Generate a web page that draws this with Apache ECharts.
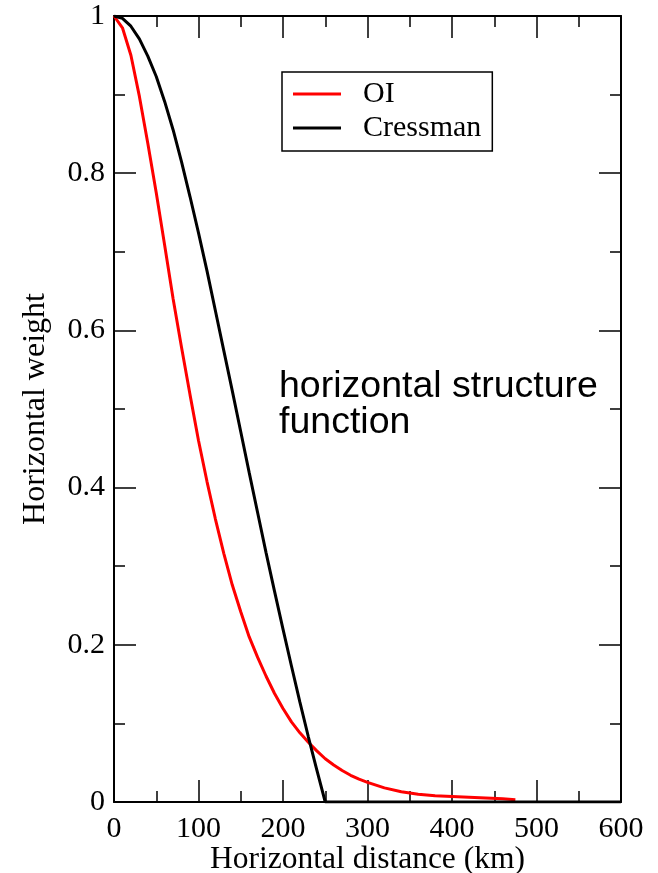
<!DOCTYPE html>
<html>
<head>
<meta charset="utf-8">
<script src="https://cdn.jsdelivr.net/npm/echarts@6/dist/echarts.min.js"></script>
<style>
html,body{margin:0;padding:0;background:#fff;}
#chart{width:658px;height:873px;}
</style>
</head>
<body>
<div id="chart"></div>
<script>
// Data
const oiDistance = [0,10,20,30,40,50,60,70,80,90,100,110,120,130,140,150,160,170,180,190,200,210,220,230,240,250,260,270,280,290,300,320,340,360,380,400,420,440,460,475];
const oiWeight   = [1.000,0.985,0.950,0.898,0.838,0.775,0.708,0.640,0.578,0.518,0.460,0.408,0.360,0.316,0.276,0.242,0.210,0.184,0.160,0.138,0.119,0.102,0.088,0.076,0.065,0.055,0.047,0.040,0.034,0.029,0.025,0.018,0.013,0.010,0.008,0.007,0.006,0.005,0.004,0.003];
const cressDistance = [0,10,20,30,40,50,60,70,80,90,100,110,120,130,140,150,160,170,180,190,200,210,220,230,240,250,300,400,500,600];
const cressWeight   = [1.000,0.997,0.987,0.971,0.949,0.923,0.891,0.855,0.814,0.770,0.724,0.676,0.625,0.574,0.523,0.471,0.419,0.368,0.317,0.268,0.220,0.173,0.127,0.083,0.041,0.000,0.000,0.000,0.000,0.000];
const seriesNames = ['OI','Cressman'];
const xTicks = [0,100,200,300,400,500,600];
const yTicks = [0,0.2,0.4,0.6,0.8,1];
const annotation = 'horizontal structure\nfunction';

const pairs = (xs, ys) => xs.map((x, i) => [x, ys[i]]);
const serif = 'Liberation Serif';

const chart = echarts.init(document.getElementById('chart'));
const axisLine = () => ({show: true, onZero: false, lineStyle: {color: '#000', width: 2}});
const tickCommon = () => ({show: true, inside: true, length: 22, lineStyle: {color: '#000', width: 1.5}});
const minorCommon = () => ({show: true, splitNumber: 2, length: 11, lineStyle: {color: '#000', width: 1.5}});

chart.setOption({
  animation: false,
  backgroundColor: '#fff',
  grid: {left: 114, right: 37, top: 16, bottom: 71, containLabel: false, outerBoundsMode: 'none'},
  xAxis: [{
    type: 'value', min: xTicks[0], max: xTicks[xTicks.length-1], interval: 100,
    position: 'bottom',
    name: 'Horizontal distance (km)', nameLocation: 'middle', nameGap: 42,
    nameMoveOverlap: false,
    nameTextStyle: {fontFamily: serif, fontSize: 31.5, color: '#000'},
    axisLine: axisLine(), axisTick: tickCommon(), minorTick: minorCommon(),
    splitLine: {show: false},
    axisLabel: {fontFamily: serif, fontSize: 30, color: '#000', margin: 12}
  }, {
    type: 'value', min: xTicks[0], max: xTicks[xTicks.length-1], interval: 100,
    position: 'top',
    axisLine: axisLine(), axisTick: tickCommon(), minorTick: minorCommon(),
    splitLine: {show: false}, axisLabel: {show: false}
  }],
  yAxis: [{
    type: 'value', min: yTicks[0], max: yTicks[yTicks.length-1], interval: 0.2,
    position: 'left',
    name: 'Horizontal weight', nameLocation: 'middle', nameGap: 62,
    nameMoveOverlap: false,
    nameTextStyle: {fontFamily: serif, fontSize: 32, color: '#000'},
    axisLine: axisLine(), axisTick: tickCommon(), minorTick: minorCommon(),
    splitLine: {show: false},
    axisLabel: {fontFamily: serif, fontSize: 30, color: '#000', margin: 9,
      formatter: v => (v === 0 || v === 1) ? String(v) : v.toFixed(1)}
  }, {
    type: 'value', min: yTicks[0], max: yTicks[yTicks.length-1], interval: 0.2,
    position: 'right',
    axisLine: axisLine(), axisTick: tickCommon(), minorTick: minorCommon(),
    splitLine: {show: false}, axisLabel: {show: false}
  }],
  legend: {
    orient: 'vertical', left: 282, top: 72,
    padding: [7, 11, 8, 11],
    borderColor: '#000', borderWidth: 1.5,
    itemGap: 4, itemWidth: 48, itemHeight: 3,
    icon: 'rect',
    data: seriesNames,
    textStyle: {fontFamily: serif, fontSize: 30, color: '#000', lineHeight: 30, padding: [0,0,0,17]}
  },
  graphic: [{
    type: 'text', left: 279, top: 368,
    style: {text: annotation, font: '37.5px "Liberation Sans"', fill: '#000', lineHeight: 36}
  }],
  series: [{
    name: seriesNames[0], type: 'line', data: pairs(oiDistance, oiWeight),
    showSymbol: false, symbol: 'none', smooth: false,
    lineStyle: {color: '#ff0000', width: 3}, itemStyle: {color: '#ff0000'}, z: 3
  }, {
    name: seriesNames[1], type: 'line', data: pairs(cressDistance, cressWeight),
    showSymbol: false, symbol: 'none', smooth: false,
    lineStyle: {color: '#000', width: 3}, itemStyle: {color: '#000'}, z: 4
  }]
});
</script>
</body>
</html>
